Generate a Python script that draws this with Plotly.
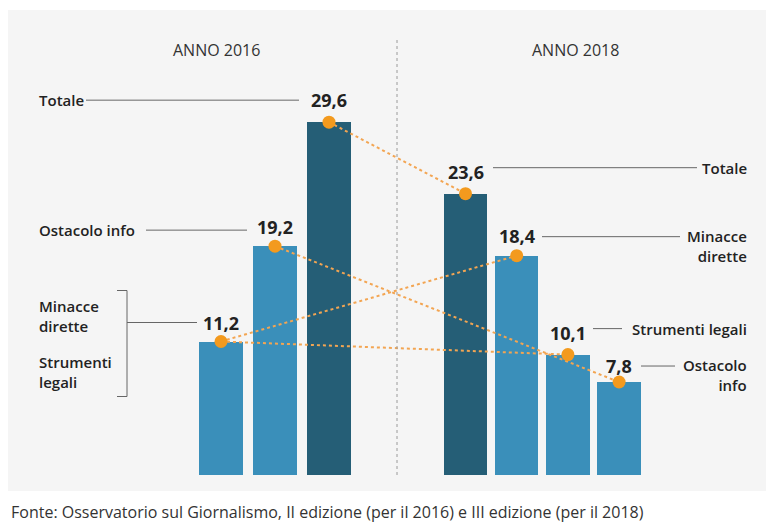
import plotly.graph_objects as go

# ---- data -------------------------------------------------------------
years = ["ANNO 2016", "ANNO 2018"]

bars_2016_labels = ["Minacce dirette / Strumenti legali", "Ostacolo info", "Totale"]
bars_2016_values = [11.2, 19.2, 29.6]

bars_2018_labels = ["Totale", "Minacce dirette", "Strumenti legali", "Ostacolo info"]
bars_2018_values = [23.6, 18.4, 10.1, 7.8]

# which bar holds each category in each year
categories = ["Totale", "Ostacolo info", "Minacce dirette", "Strumenti legali"]
bar_index_2016 = [2, 1, 0, 0]
bar_index_2018 = [0, 3, 1, 2]

source_text = ("Fonte: Osservatorio sul Giornalismo, II edizione (per il 2016) "
               "e III edizione (per il 2018)")

# ---- layout constants -------------------------------------------------
W, H = 766, 527
M_TOP, M_BOT = 10, 52
PLOT_H = H - M_TOP - M_BOT
PPU = 11.92                      # pixels per percentage point
YMAX = PLOT_H / PPU

GROUP_START = {2016: 221.0, 2018: 465.5}
GROUP_STEP = {2016: 54.0, 2018: 51.2}
BAR_W = 43.5

LIGHT = "#3a8fba"
DARK = "#255e76"
ORANGE = "#f39a1e"
DOTLINE = "#f3a552"
INK = "#222222"
RULE = "#666666"
FONT = "Open Sans"


def bar_x(year, i):
    return GROUP_START[year] + i * GROUP_STEP[year]


def yp(py):
    """figure pixel row -> paper y"""
    return (H - M_BOT - py) / PLOT_H


def lift(v, px):
    return v + px / PPU


fig = go.Figure()

# bars
for year, labels, values in ((2016, bars_2016_labels, bars_2016_values),
                             (2018, bars_2018_labels, bars_2018_values)):
    xs = [bar_x(year, i) for i in range(len(values))]
    fig.add_trace(go.Bar(
        x=xs, y=values, width=BAR_W,
        marker=dict(color=[DARK if lab == "Totale" else LIGHT for lab in labels],
                    line=dict(width=0)),
        hovertext=labels, showlegend=False,
    ))

# dotted connectors 2016 -> 2018
for cat, i16, i18 in zip(categories, bar_index_2016, bar_index_2018):
    fig.add_trace(go.Scatter(
        x=[bar_x(2016, i16), bar_x(2018, i18)],
        y=[bars_2016_values[i16], bars_2018_values[i18]],
        mode="lines", line=dict(color=DOTLINE, width=2, dash="dot"),
        name=cat, showlegend=False, hoverinfo="skip",
    ))

# dots on the bar tops
for year, values in ((2016, bars_2016_values), (2018, bars_2018_values)):
    fig.add_trace(go.Scatter(
        x=[bar_x(year, i) for i in range(len(values))], y=values,
        mode="markers", marker=dict(color=ORANGE, size=13, line=dict(width=0)),
        showlegend=False, hoverinfo="skip",
    ))

annotations = []
shapes = []

# value labels
label_lift = {2016: [19, 19, 22], 2018: [22, 20, 22, 16]}
for year, values in ((2016, bars_2016_values), (2018, bars_2018_values)):
    for i, v in enumerate(values):
        annotations.append(dict(
            x=bar_x(year, i), y=lift(v, label_lift[year][i]), xref="x", yref="y",
            text=f"<b>{v:.1f}</b>".replace(".", ","), showarrow=False,
            font=dict(family=FONT, size=18, color=INK),
            xanchor="center", yanchor="middle",
        ))


def rule(x0, x1, y):
    shapes.append(dict(type="line", xref="x", yref="y", x0=x0, x1=x1, y0=y, y1=y,
                       line=dict(color=RULE, width=1)))


def side_label(x, y, text, anchor, align):
    annotations.append(dict(
        x=x, y=y, xref="x", yref="y", text=text, showarrow=False,
        font=dict(family=FONT, size=15, color=INK, weight=600),
        xanchor=anchor, yanchor="middle", align=align,
    ))


# left side call-outs (2016)
y_tot16 = lift(bars_2016_values[2], 22)
side_label(37, y_tot16, "Totale", "left", "left")
rule(86, 299, y_tot16)

y_ost16 = lift(bars_2016_values[1], 16)
side_label(37, y_ost16, "Ostacolo info", "left", "left")
rule(146, 247, y_ost16)

y_low16 = lift(bars_2016_values[0], 19)
rule(127, 197, y_low16)
top_b, bot_b = lift(bars_2016_values[0], 51), lift(bars_2016_values[0], -55)
shapes.append(dict(type="path", xref="x", yref="y",
                   path=f"M 117,{top_b} L 127,{top_b} L 127,{bot_b} L 117,{bot_b}",
                   line=dict(color=RULE, width=1)))
side_label(37, lift(bars_2016_values[0], 26), "Minacce<br>dirette", "left", "left")
side_label(37, lift(bars_2016_values[0], -30), "Strumenti<br>legali", "left", "left")

# right side call-outs (2018)
y_tot18 = lift(bars_2018_values[0], 26)
rule(493, 697, y_tot18)
side_label(749, y_tot18, "Totale", "right", "right")

y_min18 = lift(bars_2018_values[1], 19)
rule(542, 680, y_min18)
side_label(749, lift(bars_2018_values[1], 10), "Minacce<br>dirette", "right", "right")

y_str18 = lift(bars_2018_values[2], 26)
rule(593, 622, y_str18)
side_label(749, y_str18, "Strumenti legali", "right", "right")

y_ost18 = lift(bars_2018_values[3], 16)
rule(641, 675, y_ost18)
side_label(749, lift(bars_2018_values[3], 7), "Ostacolo<br>info", "right", "right")

# year headers
for x, t in zip((216, 575), years):
    annotations.append(dict(
        x=x, y=yp(50), xref="x", yref="paper", text=t, showarrow=False,
        font=dict(family=FONT, size=16, color="#333333"),
        xanchor="center", yanchor="middle",
    ))

# source line
annotations.append(dict(
    x=9, y=yp(512), xref="x", yref="paper", text=source_text, showarrow=False,
    font=dict(family=FONT, size=16, color="#333333"),
    xanchor="left", yanchor="middle",
))

# grey panel and year divider
shapes.insert(0, dict(type="rect", xref="x", yref="paper", x0=8, x1=W,
                      y0=yp(491), y1=yp(10), fillcolor="#f5f5f5",
                      line=dict(width=0), layer="below"))
shapes.append(dict(type="line", xref="x", yref="paper", x0=397, x1=397,
                   y0=yp(475), y1=yp(40), line=dict(color="#9a9a9a", width=1, dash="dot")))

fig.update_layout(
    width=W, height=H,
    margin=dict(l=0, r=0, t=M_TOP, b=M_BOT, pad=0),
    paper_bgcolor="white", plot_bgcolor="rgba(0,0,0,0)",
    xaxis=dict(range=[0, W], visible=False, fixedrange=True),
    yaxis=dict(range=[0, YMAX], visible=False, fixedrange=True),
    shapes=shapes, annotations=annotations,
    bargap=0, showlegend=False,
)

fig.write_html("out.html", config={"displayModeBar": False})
